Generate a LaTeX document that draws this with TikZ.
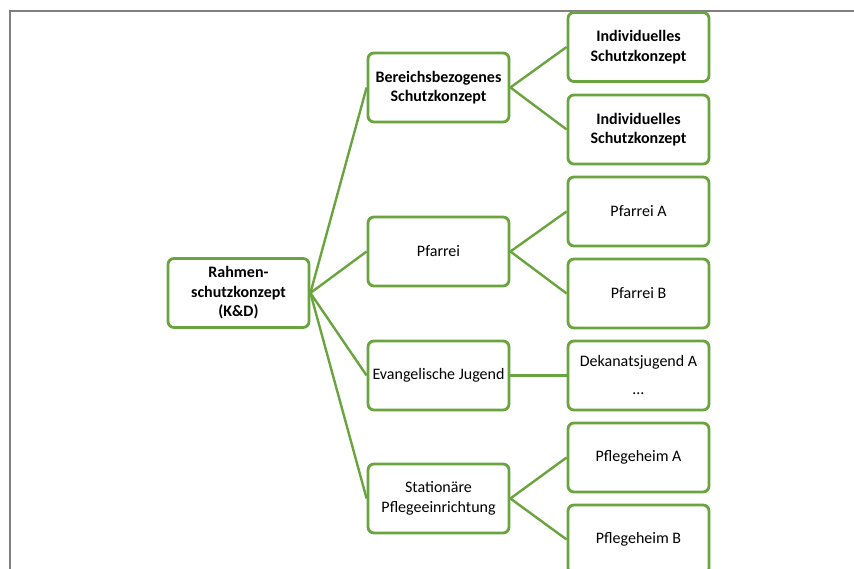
\documentclass[tikz,border=0pt]{standalone}
\usepackage{fontspec}
\setmainfont{Carlito}
\definecolor{boxgreen}{RGB}{106,164,62}
\definecolor{framegrey}{RGB}{128,128,128}
\begin{document}
\begin{tikzpicture}[x=1pt,y=1pt,
  box/.style={draw=boxgreen,line width=2.8pt,rounded corners=6pt,fill=white,
    minimum width=141pt,minimum height=69pt,inner sep=2pt,align=center,
    font=\fontsize{16}{19.5}\selectfont,text=black},
  boldbox/.style={box,font=\fontsize{16}{19.5}\selectfont\bfseries},
  conn/.style={draw=boxgreen,line width=2.4pt}]
\useasboundingbox (0,0) rectangle (854,-569);
\begin{scope}
\clip (0,0) rectangle (854,-569);
\draw[framegrey,line width=2pt] (10,-569) -- (10,-11) -- (854,-11);
% root
\node[boldbox] (root) at (238.5,-293) {Rahmen-\\schutzkonzept\\(K\&D)};
% middle column
\node[boldbox] (bsk) at (438.5,-87.5) {Bereichsbezogenes\\Schutzkonzept};
\node[box] (pf) at (438.5,-251.5) {Pfarrei};
\node[box] (ej) at (438.5,-375.5) {Evangelische Jugend};
\node[box] (sp) at (438.5,-498.5) {Stationäre\\Pflegeeinrichtung};
% right column
\node[boldbox] (isk1) at (638.5,-47) {Individuelles\\Schutzkonzept};
\node[boldbox] (isk2) at (638.5,-129.5) {Individuelles\\Schutzkonzept};
\node[box] (pfa) at (638.5,-211.5) {Pfarrei A};
\node[box] (pfb) at (638.5,-293.5) {Pfarrei B};
\node[box,font=\fontsize{16}{28}\selectfont] (dja) at (638.5,-375.5) {Dekanatsjugend A\\…};
\node[box] (pha) at (638.5,-457.5) {Pflegeheim A};
\node[box] (phb) at (638.5,-539.5) {Pflegeheim B};
% connectors
\foreach \t in {bsk,pf,ej,sp} \draw[conn] (root.east) -- (\t.west);
\draw[conn] (bsk.east) -- (isk1.west);
\draw[conn] (bsk.east) -- (isk2.west);
\draw[conn] (pf.east) -- (pfa.west);
\draw[conn] (pf.east) -- (pfb.west);
\draw[conn,line width=3pt] (ej.east) -- (dja.west);
\draw[conn] (sp.east) -- (pha.west);
\draw[conn] (sp.east) -- (phb.west);
\end{scope}
\end{tikzpicture}
\end{document}
